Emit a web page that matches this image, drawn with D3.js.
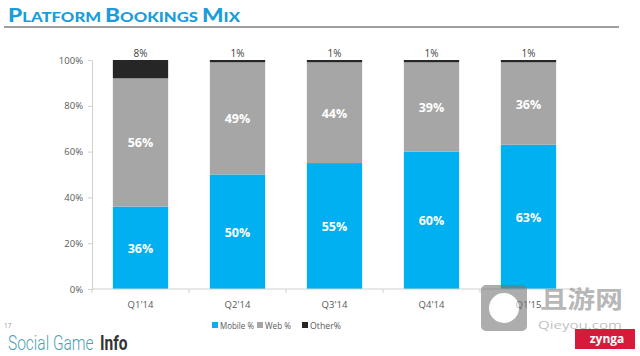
<!DOCTYPE html>
<html><head><meta charset="utf-8">
<script src="https://cdn.jsdelivr.net/npm/d3@7"></script>
<style>body{margin:0;background:#fff;} svg{display:block;}</style>
</head><body>
<svg id="c" width="640" height="356"></svg>
<script>
const categories = ["Q1'14","Q2'14","Q3'14","Q4'14","Q1'15"];
const mobile = [36,50,55,60,63];
const web = [56,49,44,39,36];
const other = [8,1,1,1,1];
const seriesNames = ["Mobile %","Web %","Other%"];
const yTicks = [0,20,40,60,80,100];

const colors = ["#00b0f0","#a6a6a6","#262626"];
const svg = d3.select("#c");
const font = "'Open Sans', sans-serif";

// Title
const t = svg.append("text").attr("x",8).attr("y",22).attr("fill","#1b9dd9")
  .attr("font-family","Lato, 'Open Sans', sans-serif").attr("font-weight",900)
  .attr("textLength",232).attr("lengthAdjust","spacingAndGlyphs");
[["P",19],["LATFORM ",14],["B",19],["OOKINGS ",14],["M",19],["IX",14]].forEach(([s,fs])=>t.append("tspan").attr("font-size",fs).text(s));
svg.append("line").attr("x1",4).attr("x2",619).attr("y1",27).attr("y2",27).attr("stroke","#7f7f7f").attr("stroke-width",1.5);

const x = d3.scaleBand().domain(categories).range([92,577]).paddingInner(0.43).paddingOuter(0.215);
const y = d3.scaleLinear().domain([0,100]).range([289,60]);

const rows = categories.map((c,i)=>({cat:c, m:mobile[i], w:web[i], o:other[i]}));
const stack = d3.stack().keys(["m","w","o"])(rows);

// axes
const yAxis = d3.axisLeft(y).tickValues(yTicks).tickFormat(d=>d+"%").tickSize(4).tickSizeOuter(0);
const gy = svg.append("g").attr("transform","translate(92,0)").call(yAxis);
gy.select(".domain").attr("stroke","#d0d0d0");
gy.selectAll(".tick line").attr("stroke","#d0d0d0");
gy.selectAll(".tick text").attr("fill","#595959").attr("font-size",9.5).attr("font-family",font).attr("x",-9);

stack.forEach((s,k)=>{
  svg.append("g").selectAll("rect").data(s).join("rect")
    .attr("x",d=>x(d.data.cat)).attr("width",x.bandwidth())
    .attr("y",d=>y(d[1])).attr("height",d=>y(d[0])-y(d[1]))
    .attr("fill",colors[k]);
});

const xAxisG = svg.append("g").attr("transform","translate(0,289)");
xAxisG.append("line").attr("x1",92).attr("x2",577).attr("stroke","#d0d0d0");
d3.range(6).forEach(i=>{
  const xx = 92 + i*(485/5);
  xAxisG.append("line").attr("x1",xx).attr("x2",xx).attr("y1",0).attr("y2",4).attr("stroke","#d0d0d0");
});
xAxisG.selectAll("text.cat").data(categories).join("text").attr("class","cat")
  .attr("x",d=>x(d)+x.bandwidth()/2).attr("y",19).attr("text-anchor","middle")
  .attr("fill","#595959").attr("font-size",9.5).attr("font-family",font).text(d=>d);

// labels inside
[0,1].forEach(k=>{
  svg.append("g").selectAll("text").data(stack[k]).join("text")
    .attr("x",d=>x(d.data.cat)+x.bandwidth()/2).attr("y",d=>(y(d[0])+y(d[1]))/2+5)
    .attr("text-anchor","middle").attr("fill","#fff").attr("font-weight","bold")
    .attr("font-size",12.5).attr("font-family",font)
    .text(d=>(d[1]-d[0])+"%");
});
svg.append("g").selectAll("text").data(stack[2]).join("text")
  .attr("x",d=>x(d.data.cat)+x.bandwidth()/2).attr("y",d=>y(d[1])-3)
  .attr("text-anchor","middle").attr("fill","#404040")
  .attr("font-size",10).attr("font-family",font)
  .text(d=>(d[1]-d[0])+"%");

// legend
const legendX = [212,257,302];
const legendW = [34,26,31];
seriesNames.forEach((n,i)=>{
  svg.append("rect").attr("x",legendX[i]).attr("y",322).attr("width",6).attr("height",6).attr("fill",colors[i]);
  svg.append("text").attr("x",legendX[i]+8).attr("y",328.5).attr("fill","#595959")
    .attr("font-size",9).attr("font-family",font)
    .attr("textLength",legendW[i]).attr("lengthAdjust","spacingAndGlyphs").text(n);
});

// footer
svg.append("text").attr("x",4).attr("y",328).attr("font-size",6.5).attr("fill","#999").attr("font-family",font).text("17");
svg.append("text").attr("transform","translate(8,350) scale(1,1.28)").attr("font-size",15.5).attr("font-weight",300)
  .attr("font-family","Roboto, 'Open Sans', sans-serif").attr("fill","#4f9fb3").text("Social Game");
svg.append("text").attr("transform","translate(100,350) scale(1,1.28)").attr("font-size",15.5).attr("font-weight",700)
  .attr("font-family","Roboto, 'Open Sans', sans-serif").attr("fill","#333").text("Info");

// watermark
const wm = svg.append("g").attr("opacity",0.6);
wm.append("rect").attr("x",481).attr("y",285).attr("width",46).attr("height",46).attr("rx",5).attr("fill","#777");
wm.append("circle").attr("cx",504).attr("cy",308).attr("r",15).attr("fill","#fff");
wm.append("text").attr("transform","translate(540,308) scale(1.15,1)").attr("font-size",24).attr("font-weight",700).attr("fill","#888")
  .attr("font-family","'Noto Sans CJK SC', sans-serif").text("且游网");
wm.append("text").attr("x",538).attr("y",329).attr("font-size",11).attr("fill","#999").attr("font-family","'Open Sans', sans-serif")
  .attr("textLength",84).attr("lengthAdjust","spacingAndGlyphs").text("Qieyou.com");
svg.append("rect").attr("x",575).attr("y",329).attr("width",60).attr("height",20).attr("fill","#d7193a");
svg.append("text").attr("x",607).attr("y",343).attr("text-anchor","middle").attr("font-size",12).attr("font-weight",700).attr("fill","#fff").attr("font-family","'Open Sans', sans-serif").text("zynga");
</script>
</body></html>
